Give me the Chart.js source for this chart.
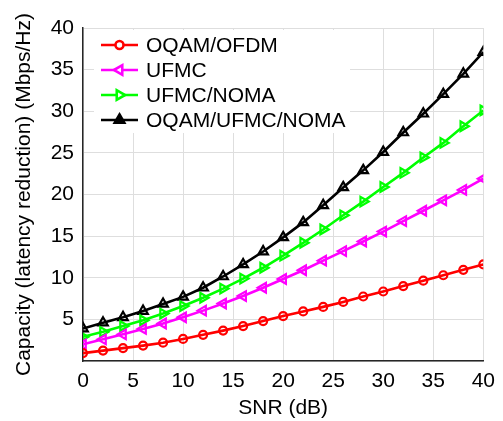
<!DOCTYPE html>
<html>
<head>
<meta charset="utf-8">
<script src="https://cdn.jsdelivr.net/npm/chart.js@4/dist/chart.umd.min.js"></script>
<style>
    html, body { margin: 0; padding: 0; background: #fff; }
    #wrap { width: 503px; height: 421px; position: relative; }
</style>
</head>
<body>
<div id="wrap"><canvas id="capChart"></canvas></div>
<script>
const snr = [0, 2, 4, 6, 8, 10, 12, 14, 16, 18, 20, 22, 24, 26, 28, 30, 32, 34, 36, 38, 40];
const xTicks = [0, 5, 10, 15, 20, 25, 30, 35, 40];
const yTicks = [0, 5, 10, 15, 20, 25, 30, 35, 40];

const oqamOfdm = [0.95, 1.25, 1.55, 1.85, 2.2, 2.65, 3.15, 3.65, 4.2, 4.8, 5.4, 5.95, 6.5, 7.1, 7.75, 8.35, 9.0, 9.65, 10.3, 10.95, 11.6];
const ufmc = [2.0, 2.6, 3.2, 3.85, 4.5, 5.25, 6.05, 6.9, 7.8, 8.8, 9.85, 10.9, 12.05, 13.2, 14.35, 15.55, 16.8, 18.05, 19.3, 20.55, 21.9];
const ufmcNoma = [2.9, 3.5, 4.2, 4.9, 5.7, 6.6, 7.6, 8.7, 9.9, 11.2, 12.65, 14.2, 15.8, 17.5, 19.15, 20.9, 22.6, 24.45, 26.2, 28.2, 30.1];
const oqamUfmcNoma = [3.9, 4.6, 5.25, 6.0, 6.85, 7.7, 8.8, 10.15, 11.6, 13.15, 14.85, 16.65, 18.7, 20.85, 22.9, 25.1, 27.45, 29.7, 32.05, 34.5, 37.1];

const FONT = { family: '"Liberation Sans", Arial, sans-serif', size: 21 };

function series(label, data, color, style, rot, radius) {
    return {
        label: label,
        data: data.map((v, i) => ({ x: snr[i], y: v })),
        borderColor: color,
        backgroundColor: color,
        borderWidth: 2.6,
        pointStyle: style,
        rotation: rot,
        pointRadius: radius,
        pointBorderWidth: 2.2,
        pointBackgroundColor: 'rgba(255,255,255,0)',
        pointBorderColor: color,
        tension: 0
    };
}

// legend drawn inside the plot, line + marker like the original
const legendBox = {
    id: 'legendBox',
    afterDraw(chart) {
        const ctx = chart.ctx;
        ctx.save();
        ctx.fillStyle = '#fff';
        ctx.fillRect(94, 30, 256, 103);
        ctx.font = '21px ' + FONT.family;
        ctx.textBaseline = 'middle';
        chart.data.datasets.forEach((ds, i) => {
            const y = 45 + i * 25;
            ctx.strokeStyle = ds.borderColor;
            ctx.lineWidth = ds.borderWidth;
            ctx.beginPath();
            ctx.moveTo(101, y);
            ctx.lineTo(138, y);
            ctx.stroke();
            ctx.fillStyle = ds.label === 'OQAM/UFMC/NOMA' ? '#000' : '#fff';
            Chart.helpers.drawPoint(ctx, {
                pointStyle: ds.pointStyle,
                rotation: ds.rotation,
                radius: ds.pointRadius,
                borderWidth: ds.pointBorderWidth
            }, 119.5, y);
            ctx.fillStyle = '#000';
            ctx.fillText(ds.label, 146, y + 1);
        });
        ctx.restore();
    }
};

new Chart(document.getElementById('capChart'), {
    type: 'line',
    data: {
        datasets: [
            series('OQAM/OFDM', oqamOfdm, '#ff0000', 'circle', 0, 4),
            series('UFMC', ufmc, '#ff00ff', 'triangle', -90, 5.5),
            series('UFMC/NOMA', ufmcNoma, '#00ff00', 'triangle', 90, 5.5),
            series('OQAM/UFMC/NOMA', oqamUfmcNoma, '#000000', 'triangle', 0, 5.5)
        ]
    },
    options: {
        responsive: true,
        maintainAspectRatio: false,
        animation: false,
        layout: { padding: { top: 28, right: 17, left: 0, bottom: 0 } },
        plugins: {
            legend: { display: false },
            tooltip: { enabled: false }
        },
        scales: {
            x: {
                type: 'linear',
                min: 0,
                max: 40,
                afterBuildTicks: s => { s.ticks = xTicks.map(v => ({ value: v })); },
                afterFit: s => { s.height = 60; },
                ticks: { font: FONT, color: '#000', padding: 8, maxRotation: 0 },
                grid: { color: '#dedede', drawTicks: false },
                border: { color: '#262626', width: 1.5 },
                title: { display: true, text: 'SNR (dB)', font: FONT, color: '#000', padding: { top: 0, bottom: 0 } }
            },
            y: {
                min: 0,
                max: 40,
                afterBuildTicks: s => { s.ticks = yTicks.map(v => ({ value: v })); },
                afterFit: s => { s.width = 83; },
                ticks: { font: FONT, color: '#000', padding: 9, callback: v => (v === 0 ? '' : v) },
                grid: { color: '#dedede', drawTicks: false },
                border: { color: '#262626', width: 1.5 },
                title: { display: true, text: 'Capacity (latency reduction) (Mbps/Hz)', font: FONT, color: '#000', padding: { top: 12, bottom: 0 } }
            }
        }
    },
    plugins: [legendBox]
});
</script>
</body>
</html>
